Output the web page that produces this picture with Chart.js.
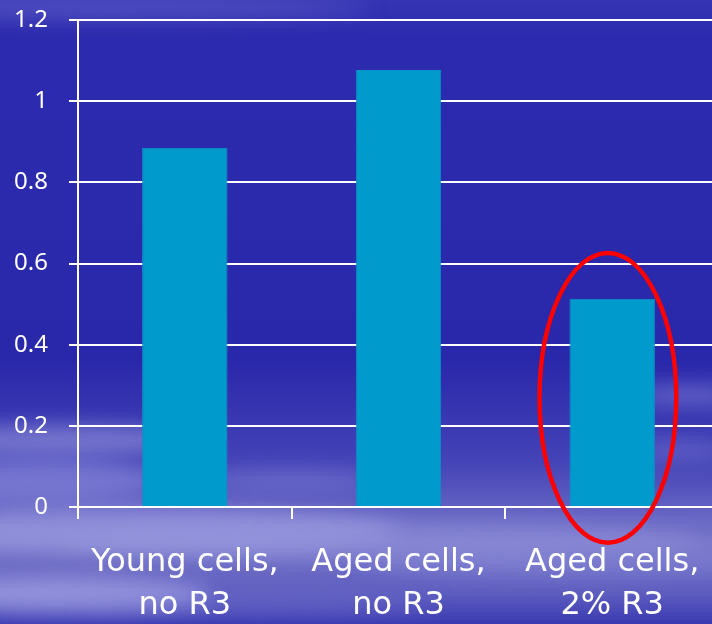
<!DOCTYPE html>
<html>
<head>
<meta charset="utf-8">
<script src="https://cdn.jsdelivr.net/npm/chart.js@4/dist/chart.umd.min.js"></script>
<style>
  html, body { margin: 0; padding: 0; overflow: hidden; background: #2b29ab; }
  #wrap { width: 719px; height: 624px; position: relative; }
</style>
</head>
<body>
<div id="wrap"><canvas id="chart"></canvas></div>
<script>
// Categories and measured values
const categories = [
  ['Young cells,', 'no R3'],
  ['Aged cells,', 'no R3'],
  ['Aged cells,', '2% R3']
];
const values = [0.885, 1.077, 0.513];
const yTicks = [0, 0.2, 0.4, 0.6, 0.8, 1, 1.2];
const yTickLabels = ['0', '0.2', '0.4', '0.6', '0.8', '1', '1.2'];

// Highlight ring around the third bar (category index, value units)
const ring = { x: 1.98, halfX: 0.32, y: 0.269, halfY: 0.357 };

// Slide-style blue backdrop with soft cloud streaks toward the bottom
const backdrop = {
  id: 'backdrop',
  beforeDraw(chart) {
    const { ctx, width, height } = chart;
    ctx.save();
    const g = ctx.createLinearGradient(0, 0, 0, height);
    g.addColorStop(0, '#3534b4');
    g.addColorStop(0.06, '#2c2aae');
    g.addColorStop(0.58, '#2a28aa');
    g.addColorStop(0.74, '#4443b7');
    g.addColorStop(0.87, '#7877ca');
    g.addColorStop(0.95, '#5e5dbf');
    g.addColorStop(1, '#3b3ab2');
    ctx.fillStyle = g;
    ctx.fillRect(0, 0, width, height);

    const streaks = [
      [110, 8, 260, 10, 'rgba(120,120,210,0.45)'],
      [60, 440, 150, 14, 'rgba(170,170,230,0.55)'],
      [40, 480, 120, 22, 'rgba(150,150,225,0.55)'],
      [290, 480, 90, 10, 'rgba(130,130,215,0.5)'],
      [140, 530, 260, 22, 'rgba(165,165,230,0.6)'],
      [60, 595, 150, 18, 'rgba(175,175,235,0.65)'],
      [380, 540, 320, 18, 'rgba(150,150,222,0.5)'],
      [690, 395, 60, 10, 'rgba(150,150,225,0.5)'],
      [680, 450, 50, 10, 'rgba(130,130,215,0.45)'],
      [560, 560, 200, 16, 'rgba(140,140,218,0.45)'],
      [260, 605, 180, 10, 'rgba(130,130,215,0.35)']
    ];
    ctx.filter = 'blur(10px)';
    streaks.forEach(([cx, cy, rx, ry, c]) => {
      ctx.fillStyle = c;
      ctx.beginPath();
      ctx.ellipse(cx, cy, rx, ry, 0, 0, Math.PI * 2);
      ctx.fill();
    });
    ctx.restore();
  }
};

// Red ellipse drawn through the scales
const ringPlugin = {
  id: 'ring',
  afterDatasetsDraw(chart) {
    const { ctx, scales } = chart;
    const x = scales.x, y = scales.y;
    const cx = x.getPixelForValue(ring.x);
    const unit = x.getPixelForValue(1) - x.getPixelForValue(0);
    const rx = ring.halfX * unit;
    const cy = y.getPixelForValue(ring.y);
    const ry = Math.abs(y.getPixelForValue(ring.y + ring.halfY) - cy);
    ctx.save();
    ctx.strokeStyle = '#ff0000';
    ctx.lineWidth = 4.5;
    ctx.beginPath();
    ctx.ellipse(cx, cy, rx, ry, 0, 0, Math.PI * 2);
    ctx.stroke();
    ctx.restore();
  }
};

new Chart(document.getElementById('chart'), {
  type: 'bar',
  data: {
    labels: categories,
    datasets: [{
      data: values,
      backgroundColor: '#009acc',
      borderColor: '#0a92c6',
      borderWidth: 1,
      barPercentage: 0.4,
      categoryPercentage: 1
    }]
  },
  options: {
    responsive: true,
    maintainAspectRatio: false,
    animation: false,
    layout: { padding: { top: 20, right: 0, left: 0, bottom: 0 } },
    plugins: { legend: { display: false }, tooltip: { enabled: false } },
    scales: {
      x: {
        offset: true,
        afterFit(scale) {
          scale.height = 117;
          scale.paddingLeft = 0;
          scale.paddingRight = 0;
        },
        grid: {
          offset: true,
          drawOnChartArea: false,
          color: '#ffffff',
          lineWidth: 2,
          tickLength: 12
        },
        border: { display: true, color: '#ffffff', width: 2 },
        ticks: {
          color: '#ffffff',
          padding: 22,
          maxRotation: 0,
          autoSkip: false,
          font: { family: '"DejaVu Sans", sans-serif', size: 32, lineHeight: 1.35 }
        }
      },
      y: {
        min: 0,
        max: 1.2,
        afterFit(scale) {
          scale.width = 78;
          scale.paddingTop = 0;
          scale.paddingBottom = 0;
        },
        afterBuildTicks(scale) { scale.ticks = yTicks.map(v => ({ value: v })); },
        grid: {
          color: '#ffffff',
          lineWidth: 2,
          tickLength: 9
        },
        border: { display: true, color: '#ffffff', width: 2 },
        ticks: {
          color: '#ffffff',
          padding: 21,
          font: { family: '"Noto Sans", sans-serif', size: 24 },
          callback: (v, i) => yTickLabels[i]
        }
      }
    }
  },
  plugins: [backdrop, ringPlugin]
});
</script>
</body>
</html>
